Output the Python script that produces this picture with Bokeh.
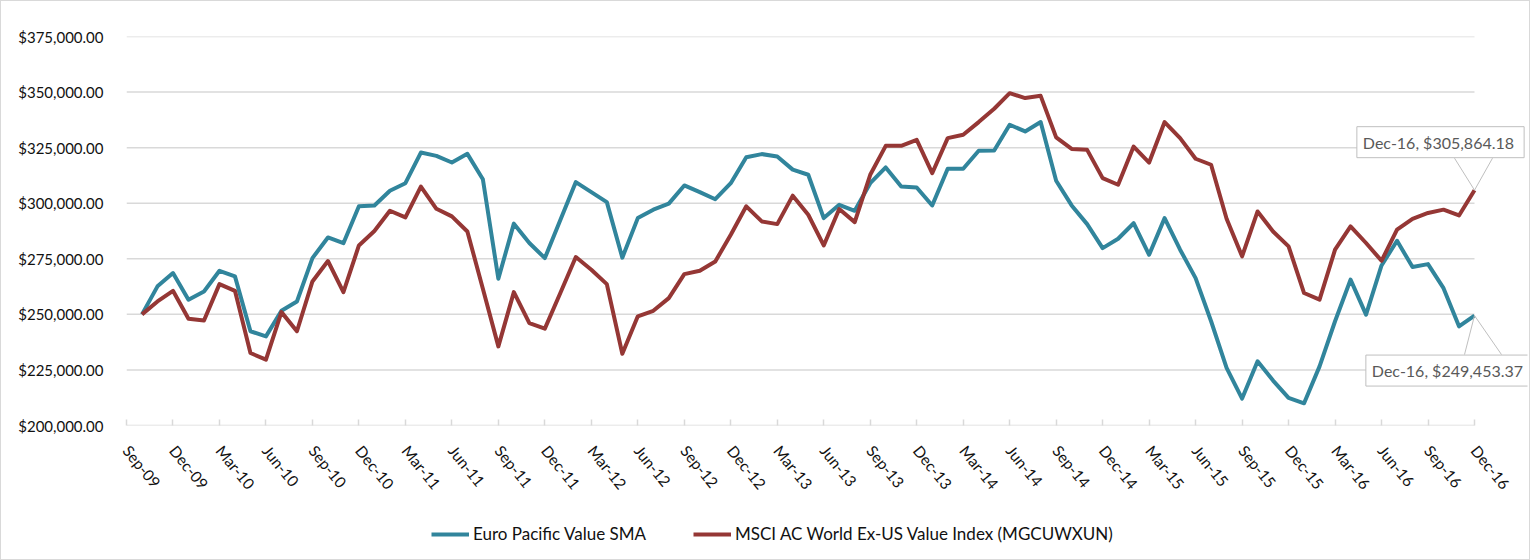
import math
from bokeh.plotting import figure
from bokeh.layouts import column
from bokeh.models import (ColumnDataSource, FixedTicker, Range1d, Legend, LegendItem,
                          Label, Arrow, NumeralTickFormatter)
from bokeh.embed import file_html
from bokeh.resources import INLINE

# ---- data ----
tick_labels = ["Sep-09", "Dec-09", "Mar-10", "Jun-10", "Sep-10", "Dec-10", "Mar-11", "Jun-11",
               "Sep-11", "Dec-11", "Mar-12", "Jun-12", "Sep-12", "Dec-12", "Mar-13", "Jun-13",
               "Sep-13", "Dec-13", "Mar-14", "Jun-14", "Sep-14", "Dec-14", "Mar-15", "Jun-15",
               "Sep-15", "Dec-15", "Mar-16", "Jun-16", "Sep-16", "Dec-16"]

euro_pacific = [250000, 262600, 268600, 256600, 260300, 269600, 267100, 242400, 240100, 251600,
                255800, 275300, 284600, 282000, 298600, 299000, 305600, 309000, 322800, 321300,
                318300, 322200, 310800, 266000, 290800, 282100, 275300, 292400, 309500, 305000,
                300500, 275500, 293300, 297100, 299800, 308000, 305000, 301800, 309000, 320700,
                322100, 321000, 315100, 312800, 293300, 299300, 296600, 309000, 316100, 307500,
                307100, 299000, 315500, 315500, 323600, 323700, 335300, 332300, 336500, 310100,
                299000, 290600, 279800, 284000, 291000, 276800, 293300, 279100, 266300, 246900,
                225900, 212100, 228900, 220200, 212400, 210000, 226600, 246900, 265600, 249900,
                272000, 283100, 271300, 272600, 261800, 244600, 249453.37]

msci = [250000, 255800, 260600, 248000, 247200, 263600, 260600, 232600, 229600, 251000,
        242400, 264800, 274000, 260000, 281000, 287500, 296600, 293600, 307500, 297500,
        294100, 287300, 261500, 235600, 260000, 246100, 243600, 259600, 275800, 270100,
        263600, 232300, 249100, 251600, 257300, 268100, 269600, 273800, 285800, 298600,
        291800, 290600, 303400, 294800, 281000, 297400, 291500, 312800, 325800, 325800,
        328500, 313500, 329300, 330800, 336500, 342500, 349500, 347300, 348300, 329600,
        324400, 324000, 311300, 308300, 325500, 318300, 336500, 329300, 320000, 317300,
        293000, 276100, 296300, 287300, 280600, 259600, 256600, 279100, 289600, 282100,
        274100, 288100, 293000, 295600, 297100, 294500, 305864.18]

y_ticks = [200000, 225000, 250000, 275000, 300000, 325000, 350000, 375000]
series_names = ["Euro Pacific Value SMA", "MSCI AC World Ex-US Value Index (MGCUWXUN)"]
last_label = "Dec-16"

# month index (Sep-09 = 0); the series start one month after the first category
n_cat = len(tick_labels) * 3 - 2  # 88 monthly categories
x_idx = list(range(n_cat - len(euro_pacific), n_cat))
last_x = n_cat - 1

TEAL = "#31859C"
RED = "#953735"
GRID = "#D9D9D9"
FONT = "Lato"
TXT = "#111111"

# layout (pixels)
W, H, LEG_H = 1528, 500, 58
F_LEFT, F_TOP, F_BOTTOM, DATA_RIGHT, F_RIGHT = 125, 35, 424, 1473, 1526
ppm = (DATA_RIGHT - F_LEFT) / last_x                   # px per month
ppd = (F_BOTTOM - F_TOP) / (y_ticks[-1] - y_ticks[0])  # px per dollar

src = ColumnDataSource(dict(x=x_idx, euro=euro_pacific, msci=msci))

p = figure(width=W, height=H, output_backend="svg", toolbar_location=None,
           x_range=Range1d(0, last_x + (F_RIGHT - DATA_RIGHT) / ppm),
           y_range=Range1d(y_ticks[0], y_ticks[-1]),
           min_border_left=F_LEFT, min_border_right=W - F_RIGHT,
           min_border_top=F_TOP, min_border_bottom=H - F_BOTTOM)
p.outline_line_color = None
p.background_fill_color = "white"
p.border_fill_color = "white"

# grid lines (drawn only over the category span)
p.xgrid.grid_line_color = None
p.ygrid.grid_line_color = None
p.segment(x0=[0] * len(y_ticks), x1=[last_x] * len(y_ticks), y0=y_ticks, y1=y_ticks,
          line_color=GRID, line_width=1.5)

# y axis
p.yaxis.ticker = FixedTicker(ticks=y_ticks)
p.yaxis.formatter = NumeralTickFormatter(format="$0,0.00")
p.yaxis.axis_line_color = None
p.yaxis.major_tick_line_color = None
p.yaxis.minor_tick_line_color = None
p.yaxis.major_label_standoff = 17
p.yaxis.major_label_text_font = FONT
p.yaxis.major_label_text_font_size = "15px"
p.yaxis.major_label_text_color = TXT

# x axis
ticks = list(range(0, n_cat, 3))
p.xaxis.ticker = FixedTicker(ticks=ticks)
p.xaxis.major_label_overrides = {t: lab for t, lab in zip(ticks, tick_labels)}
p.xaxis.major_label_orientation = -math.radians(51)
p.xaxis.axis_line_color = None
p.xaxis.major_tick_line_color = GRID
p.xaxis.major_tick_line_width = 1.5
p.xaxis.major_tick_in = 6
p.xaxis.major_tick_out = 0
p.xaxis.minor_tick_line_color = None
p.xaxis.major_label_standoff = 22
p.xaxis.major_label_text_font = FONT
p.xaxis.major_label_text_font_size = "15.5px"
p.xaxis.major_label_text_color = TXT

p.line("x", "euro", source=src, line_color=TEAL, line_width=4, line_join="round")
p.line("x", "msci", source=src, line_color=RED, line_width=4, line_join="round")

# callouts for the last values
def callout(yv, dx, dy, left_px, right_px, edge_px):
    txt = f"{last_label},  ${yv:,.2f}"
    p.add_layout(Label(x=last_x, y=yv, x_offset=dx, y_offset=dy, text=txt,
                       text_align="center", text_baseline="middle",
                       text_font=FONT, text_font_size="16px", text_color="#595959",
                       background_fill_color="white", border_line_color="#BFBFBF",
                       border_line_width=1, padding=6))
    for px in (left_px, right_px):
        p.add_layout(Arrow(end=None, x_start=last_x + px / ppm, y_start=yv + edge_px / ppd,
                           x_end=last_x, y_end=yv, line_color="#BFBFBF", line_width=1))

callout(msci[-1], -34, 48, -20, 18, 32)
callout(euro_pacific[-1], -25, -55, -10, 27, -39)

# legend strip below the chart; its lines share the data source but fall
# outside this strip's ranges, so only the legend entries are visible
lf = figure(width=W, height=LEG_H, output_backend="svg", toolbar_location=None,
            x_axis_type=None, y_axis_type=None, min_border=0,
            x_range=Range1d(0, 1), y_range=Range1d(0, 1))
lf.outline_line_color = None
lf.grid.grid_line_color = None
e1 = lf.line("x", "euro", source=src, line_color=TEAL, line_width=4)
e2 = lf.line("x", "msci", source=src, line_color=RED, line_width=4)
legend = Legend(items=[LegendItem(label=series_names[0], renderers=[e1]),
                       LegendItem(label=series_names[1], renderers=[e2])],
                orientation="horizontal", location=(430 - F_LEFT, 15),
                glyph_width=38, glyph_height=16, label_standoff=4, spacing=47,
                padding=0, margin=0, border_line_color=None, background_fill_alpha=0,
                label_text_font=FONT, label_text_font_size="17px", label_text_color=TXT)
lf.add_layout(legend, "center")

page = column(p, lf, spacing=0, styles={"border": "1px solid #D9D9D9"})

open("out.html", "w").write(file_html(page, INLINE))
